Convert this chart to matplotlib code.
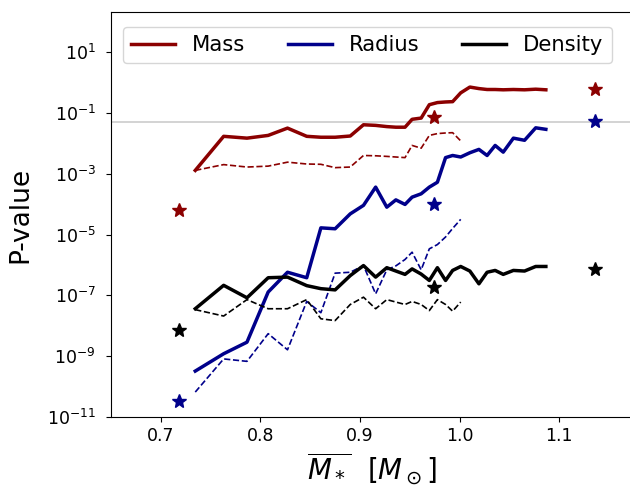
import matplotlib
matplotlib.use("Agg")
import matplotlib.pyplot as plt
import numpy as np
from matplotlib.ticker import NullLocator

# mean stellar mass of each bin
m_bins = [0.7346, 0.7631, 0.7865, 0.8078, 0.8272, 0.8465, 0.8607, 0.8750,
          0.8902, 0.9035, 0.9157, 0.9269, 0.9360, 0.9452, 0.9523, 0.9614,
          0.9696, 0.9777, 0.9859, 0.9930, 1.0011, 1.0103, 1.0194, 1.0276,
          1.0357, 1.0438, 1.0540, 1.0652, 1.0764, 1.0866]
n_dash = 21

# log10 of the p-values (solid)
mass_log = [-2.89, -1.77, -1.83, -1.74, -1.50, -1.77, -1.80, -1.80, -1.76, -1.39,
            -1.41, -1.45, -1.47, -1.47, -1.21, -1.17, -0.73, -0.66, -0.64, -0.63,
            -0.34, -0.15, -0.20, -0.23, -0.23, -0.24, -0.23, -0.24, -0.22, -0.24]
radius_log = [-9.49, -8.92, -8.54, -6.89, -6.24, -6.42, -4.78, -4.81, -4.32, -4.04,
              -3.44, -4.10, -3.86, -4.01, -3.77, -3.66, -3.44, -3.28, -2.47, -2.40,
              -2.45, -2.31, -2.20, -2.40, -2.07, -2.29, -1.83, -1.90, -1.49, -1.54]
density_log = [-7.44, -6.67, -7.08, -6.42, -6.40, -6.68, -6.78, -6.82, -6.35, -6.02,
               -6.40, -6.09, -6.20, -6.31, -6.13, -6.30, -6.51, -6.09, -6.51, -6.18,
               -6.05, -6.20, -6.62, -6.24, -6.18, -6.31, -6.18, -6.20, -6.05, -6.05]

# log10 of the p-values (dashed)
mass_log2 = [-2.89, -2.70, -2.78, -2.75, -2.62, -2.68, -2.69, -2.80, -2.78, -2.40,
             -2.41, -2.43, -2.45, -2.47, -2.07, -2.16, -1.74, -1.68, -1.66, -1.65, -1.92]
radius_log2 = [-10.18, -9.09, -9.17, -8.26, -8.79, -7.20, -7.57, -6.27, -6.24, -6.02,
               -6.95, -6.16, -6.03, -5.82, -5.58, -6.16, -5.47, -5.33, -5.08, -4.80, -4.50]
density_log2 = [-7.47, -7.68, -7.14, -7.44, -7.44, -7.14, -7.77, -7.83, -7.30, -7.06,
                -7.44, -7.14, -7.22, -7.30, -7.20, -7.30, -7.50, -7.14, -7.30, -7.52, -7.22]

# single points (stars)
star_x = [0.7186, 0.9747, 1.1357]
mass_star = [-4.18, -1.12, -0.22]
radius_star = [-10.46, -4.01, -1.25]
density_star = [-8.13, -6.73, -6.13]

labels = ['Mass', 'Radius', 'Density']
colors = ['darkred', 'darkblue', 'black']

fig = plt.figure(figsize=(6.3, 4.88), dpi=100)
ax = fig.add_axes([0.1762, 0.1455, 0.83, 0.830])

solid = [mass_log, radius_log, density_log]
dashed = [mass_log2, radius_log2, density_log2]
stars = [mass_star, radius_star, density_star]

for i in range(3):
    ax.plot(m_bins, 10.0 ** np.array(solid[i]), color=colors[i], lw=2.5, label=labels[i])
    ax.plot(m_bins[:n_dash], 10.0 ** np.array(dashed[i]), color=colors[i], lw=1.2, ls='--')
    ax.plot(star_x, 10.0 ** np.array(stars[i]), ls='none', marker='*', ms=10, color=colors[i])

ax.axhline(0.05, color='#cccccc', lw=1.2, zorder=0)

ax.set_yscale('log')
ax.set_ylim(1e-11, 10 ** 2.32)
ax.set_xlim(0.65, 1.175)
ax.set_yticks([1e-11, 1e-9, 1e-7, 1e-5, 1e-3, 1e-1, 1e1])
ax.yaxis.set_minor_locator(NullLocator())
ax.set_xticks([0.7, 0.8, 0.9, 1.0, 1.1])
ax.tick_params(labelsize=12.5)
ax.tick_params(axis='y', pad=7.5)

ax.set_ylabel('P-value', fontsize=19, labelpad=10)
ax.set_xlabel(r'$\overline{M_*}\ \ [M_\odot]$', fontsize=20)
ax.legend(loc='upper center', ncol=3, fontsize=15.2, handlelength=2.1,
          columnspacing=2.0, bbox_to_anchor=(0.49, 0.99))

plt.savefig('out.png', dpi=100)
